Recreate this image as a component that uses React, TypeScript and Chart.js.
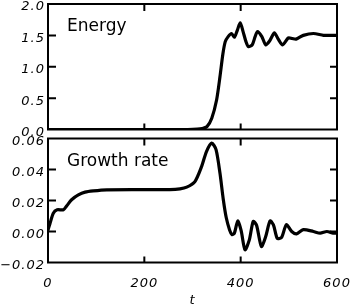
import React, { useEffect, useRef } from 'react';
import { Chart, registerables } from 'chart.js';

Chart.register(...registerables);

// ---- data ----
const energyT = [0, 100, 200, 290, 310, 320, 330, 340, 350, 357, 363, 368, 374, 381, 387, 393, 399, 405, 411, 416, 424, 430, 435, 444, 452, 460, 470, 478, 487, 499, 507, 515, 530, 551, 572, 585, 600];
const energyV = [0, 0, 0, 0, 0.005, 0.015, 0.045, 0.18, 0.47, 0.84, 1.2, 1.4, 1.48, 1.53, 1.47, 1.58, 1.7, 1.56, 1.4, 1.32, 1.35, 1.48, 1.56, 1.48, 1.35, 1.41, 1.54, 1.44, 1.35, 1.46, 1.45, 1.44, 1.5, 1.53, 1.5, 1.5, 1.5];

const growthT = [0, 4, 11, 19, 32, 39, 49, 63, 77, 94, 122, 200, 253, 274, 288, 305, 319, 329, 340, 349, 357, 364, 370, 377, 382, 387, 394, 401, 409, 418, 426, 433, 443, 452, 461, 468, 476, 485, 495, 506, 516, 530, 551, 565, 579, 592, 600];
const growthV = [0.001, 0.005, 0.0118, 0.014, 0.014, 0.0166, 0.0205, 0.0236, 0.0254, 0.0262, 0.0269, 0.027, 0.027, 0.0275, 0.0286, 0.0322, 0.042, 0.0516, 0.057, 0.0527, 0.0377, 0.0205, 0.009, 0.001, -0.002, -0.001, 0.0068, 0.0005, -0.0118, -0.0054, 0.0065, 0.004, -0.0097, -0.0032, 0.0068, 0.0043, -0.0045, -0.0038, 0.0045, 0.0, -0.0015, 0.0012, 0.0, -0.0011, 0.0, -0.001, -0.001];

const xTicks = [0, 200, 400, 600];
const energyTicks = [0, 0.5, 1.0, 1.5, 2.0];
const growthTicks = [-0.02, 0, 0.02, 0.04, 0.06];
const xTitle = 't';
const energyLabel = 'Energy';
const growthLabel = 'Growth rate';

const tickFont = { family: '"DejaVu Sans"', size: 13, style: 'italic' as const };

function framePlugin(xT: number[], yT: number[], label: string) {
  return {
    id: 'frame_' + label.replace(/\s/g, ''),
    beforeDraw(chart: any) {
      chart.ctx.letterSpacing = '1px';
    },
    afterDraw(chart: any) {
      const ctx = chart.ctx;
      ctx.letterSpacing = '0px';
      const a = chart.chartArea;
      const xs = chart.scales.x;
      const ys = chart.scales.y;
      ctx.save();
      ctx.strokeStyle = '#000';
      ctx.lineWidth = 2;
      ctx.strokeRect(a.left, a.top, a.right - a.left, a.bottom - a.top);
      ctx.beginPath();
      for (const v of xT) {
        if (v <= xs.min || v >= xs.max) continue;
        const px = xs.getPixelForValue(v);
        ctx.moveTo(px, a.bottom);
        ctx.lineTo(px, a.bottom - 6);
        ctx.moveTo(px, a.top);
        ctx.lineTo(px, a.top + 7);
      }
      for (const v of yT) {
        if (v <= ys.min + 1e-9 || v >= ys.max - 1e-9) continue;
        const py = ys.getPixelForValue(v);
        ctx.moveTo(a.left, py);
        ctx.lineTo(a.left + 8, py);
        ctx.moveTo(a.right, py);
        ctx.lineTo(a.right - 7, py);
      }
      ctx.stroke();
      ctx.fillStyle = '#000';
      ctx.font = '17px "DejaVu Sans"';
      ctx.textAlign = 'left';
      ctx.textBaseline = 'alphabetic';
      ctx.fillText(label, a.left + 19, a.top + 27);
      ctx.restore();
    },
  };
}

function buildConfig(opts: {
  t: number[]; v: number[]; yTicks: number[]; yMin: number; yMax: number; decimals: number;
  label: string; showX: boolean; padTop: number; xHeight: number;
}): any {
  const { t, v, yTicks, yMin, yMax, decimals, label, showX, padTop, xHeight } = opts;
  return {
    type: 'line',
    data: {
      datasets: [
        {
          data: t.map((x, i) => ({ x, y: v[i] })),
          borderColor: '#000',
          borderWidth: 3.2,
          pointRadius: 0,
          tension: 0.25,
          borderJoinStyle: 'round',
          borderCapStyle: 'round',
          fill: false,
        },
      ],
    },
    options: {
      responsive: false,
      animation: false,
      devicePixelRatio: 1,
      layout: { padding: { top: padTop, right: 16, left: 0, bottom: 0 } },
      plugins: { legend: { display: false }, tooltip: { enabled: false } },
      scales: {
        x: {
          type: 'linear',
          min: 0,
          max: 600,
          grid: { display: false, drawTicks: false },
          border: { display: false },
          afterBuildTicks: (s: any) => { s.ticks = xTicks.map((value) => ({ value })); },
          afterFit: (s: any) => { s.height = xHeight; s.paddingLeft = 0; s.paddingRight = 0; },
          ticks: {
            display: showX,
            padding: 13,
            color: '#000',
            font: tickFont,
            maxRotation: 0,
            autoSkip: false,
            callback: (val: number) => String(val),
          },
          title: {
            display: showX,
            text: xTitle,
            color: '#000',
            padding: { top: 0, bottom: 0 },
            font: { family: '"DejaVu Sans"', size: 13, style: 'italic', lineHeight: 1 },
          },
        },
        y: {
          type: 'linear',
          min: yMin,
          max: yMax,
          grid: { display: false, drawTicks: false },
          border: { display: false },
          afterBuildTicks: (s: any) => { s.ticks = yTicks.map((value) => ({ value })); },
          afterFit: (s: any) => { s.width = 48; s.paddingTop = 0; s.paddingBottom = 0; },
          ticks: {
            padding: 3,
            labelOffset: 3,
            color: '#000',
            font: tickFont,
            autoSkip: false,
            callback: (val: number) => {
              const s = Math.abs(val).toFixed(decimals);
              return val < -1e-12 ? '\u2212' + s : s;
            },
          },
        },
      },
    },
    plugins: [framePlugin(xTicks, yTicks, label)],
  };
}

export default function App() {
  const topRef = useRef<HTMLCanvasElement | null>(null);
  const botRef = useRef<HTMLCanvasElement | null>(null);

  useEffect(() => {
    const c1 = new Chart(topRef.current as HTMLCanvasElement, buildConfig({
      t: energyT, v: energyV, yTicks: energyTicks, yMin: 0, yMax: 2.0, decimals: 1,
      label: energyLabel, showX: false, padTop: 4, xHeight: 15.5,
    }));
    const c2 = new Chart(botRef.current as HTMLCanvasElement, buildConfig({
      t: growthT, v: growthV, yTicks: growthTicks, yMin: -0.02, yMax: 0.06, decimals: 2,
      label: growthLabel, showX: true, padTop: 7.5, xHeight: 44.5,
    }));
    return () => { c1.destroy(); c2.destroy(); };
  }, []);

  return (
    <div style={{ position: 'absolute', left: 0, top: 0, width: 353, height: 307, background: '#fff' }}>
      <canvas ref={topRef} width={353} height={145}
        style={{ position: 'absolute', left: 0, top: 0, width: 353, height: 145 }} />
      <canvas ref={botRef} width={353} height={176}
        style={{ position: 'absolute', left: 0, top: 131, width: 353, height: 176 }} />
    </div>
  );
}
